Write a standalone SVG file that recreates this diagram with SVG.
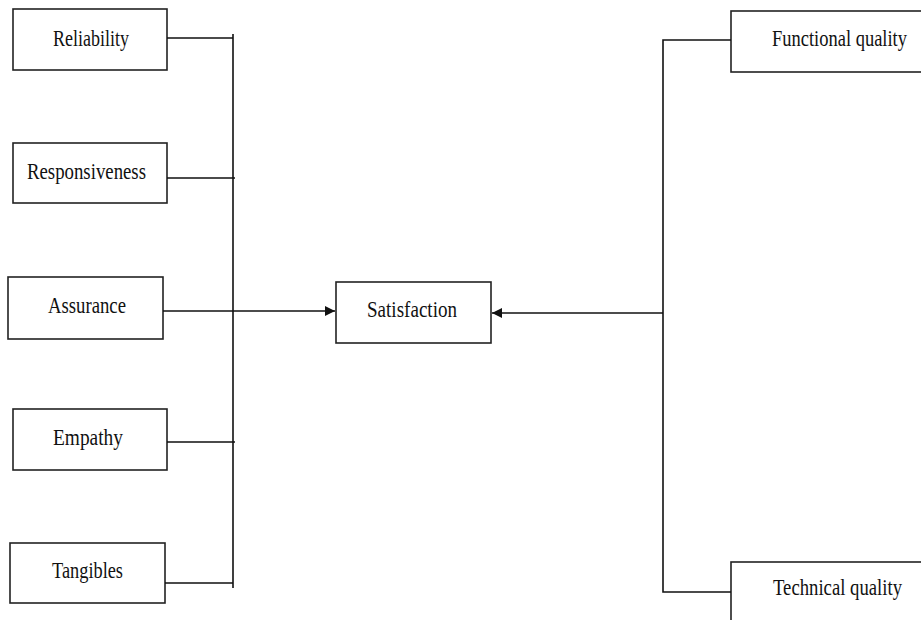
<svg xmlns="http://www.w3.org/2000/svg" width="921" height="620" viewBox="0 0 921 620">
<style>
.box{fill:#fff;stroke:#222;stroke-width:1.6}
.lbl{font-family:"Liberation Serif","Times New Roman",serif;font-size:24px;fill:#111;text-anchor:start}
.ln{fill:none;stroke:#111;stroke-width:1.6}
</style>
<defs>
<marker id="ah" viewBox="0 0 10 10" refX="10" refY="5" markerWidth="10" markerHeight="10" markerUnits="userSpaceOnUse" orient="auto">
<path d="M0,0 L10,5 L0,10 z" fill="#111"/>
</marker>
</defs>
<rect width="921" height="620" fill="#fff"/>
<g id="reliability"><rect class="box" x="13" y="9" width="154" height="61"/><text class="lbl" x="53" y="46" textLength="76" lengthAdjust="spacingAndGlyphs">Reliability</text></g>
<g id="responsiveness"><rect class="box" x="13" y="143" width="154" height="60"/><text class="lbl" x="27" y="179" textLength="119" lengthAdjust="spacingAndGlyphs">Responsiveness</text></g>
<g id="assurance"><rect class="box" x="8" y="277" width="155" height="62"/><text class="lbl" x="48" y="313" textLength="78" lengthAdjust="spacingAndGlyphs">Assurance</text></g>
<g id="empathy"><rect class="box" x="13" y="409" width="154" height="61"/><text class="lbl" x="53" y="445" textLength="70" lengthAdjust="spacingAndGlyphs">Empathy</text></g>
<g id="tangibles"><rect class="box" x="10" y="543" width="155" height="60"/><text class="lbl" x="52" y="578" textLength="71" lengthAdjust="spacingAndGlyphs">Tangibles</text></g>
<g id="satisfaction"><rect class="box" x="336" y="282" width="155" height="61"/><text class="lbl" x="367" y="317" textLength="90" lengthAdjust="spacingAndGlyphs">Satisfaction</text></g>
<g id="functional"><rect class="box" x="731" y="11" width="200" height="61"/><text class="lbl" x="772" y="46" textLength="135" lengthAdjust="spacingAndGlyphs">Functional quality</text></g>
<g id="technical"><rect class="box" x="731" y="562" width="200" height="70"/><text class="lbl" x="773" y="595" textLength="129" lengthAdjust="spacingAndGlyphs">Technical quality</text></g>
<g id="connectors">
<path class="ln" d="M167,38 H233 M167,178 H235 M167,442 H235 M165,583 H233 M233,34 V588"/>
<path class="ln" d="M163,311 H335" marker-end="url(#ah)"/>
<path class="ln" d="M731,40 H663 V592 H731"/>
<path class="ln" d="M663,313 H492" marker-end="url(#ah)"/>
</g>
</svg>
